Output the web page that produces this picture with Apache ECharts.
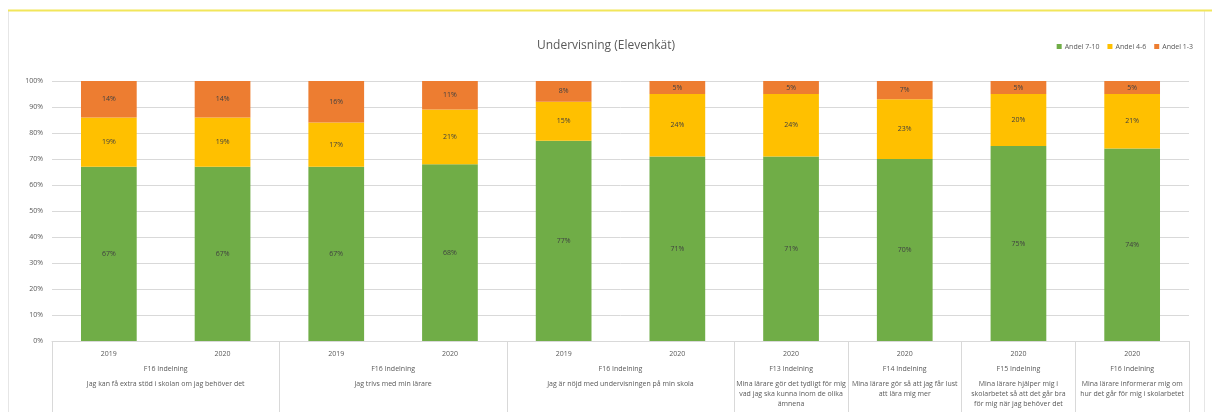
<!DOCTYPE html>
<html>
<head>
<meta charset="utf-8">
<script src="https://cdn.jsdelivr.net/npm/echarts@6/dist/echarts.min.js"></script>
<style>
html,body{margin:0;padding:0;background:#fff;}
#c{width:1212px;height:412px;}
</style>
</head>
<body>
<div id="c"></div>
<script>
// ---- data ----
const years = ['2019','2020','2019','2020','2019','2020','2020','2020','2020','2020'];
const andel7_10 = [67, 67, 67, 68, 77, 71, 71, 70, 75, 74];
const andel4_6  = [19, 19, 17, 21, 15, 24, 24, 23, 20, 21];
const andel1_3  = [14, 14, 16, 11,  8,  5,  5,  7,  5,  5];
const seriesNames = ['Andel 7-10', 'Andel 4-6', 'Andel 1-3'];
const groupSizes = [2, 2, 2, 1, 1, 1, 1];
const groupCodes = ['F16 Indelning', 'F16 Indelning', 'F16 Indelning', 'F13 Indelning', 'F14 Indelning', 'F15 Indelning', 'F16 Indelning'];
const groupQuestions = [
  'Jag kan få extra stöd i skolan om jag behöver det',
  'Jag trivs med min lärare',
  'Jag är nöjd med undervisningen på min skola',
  'Mina lärare gör det tydligt för mig\nvad jag ska kunna inom de olika\nämnena',
  'Mina lärare gör så att jag får lust\natt lära mig mer',
  'Mina lärare hjälper mig i\nskolarbetet så att det går bra\nför mig när jag behöver det',
  'Mina lärare informerar mig om\nhur det går för mig i skolarbetet'
];

// ---- derived group positions (on a 0..N value scale aligned with categories) ----
const bounds = [0];
groupSizes.forEach(s => bounds.push(bounds[bounds.length - 1] + s));
const centers = groupSizes.map((s, i) => bounds[i] + s / 2);
const labelByCenter = {};
centers.forEach((c, i) => {
  labelByCenter[c] = '{c|' + groupCodes[i] + '}\n{s| }\n{q|' + groupQuestions[i] + '}';
});

const colors = ['#70ad47', '#ffc000', '#ed7d31'];
const textGray = '#595959';
const gridGray = '#d9d9d9';

const chart = echarts.init(document.getElementById('c'), null, {renderer: 'canvas'});
const mkSeries = (name, data, color) => ({
  name: name,
  type: 'bar',
  stack: 'total',
  data: data,
  barWidth: '49%',
  itemStyle: {color: color},
  label: {
    show: true,
    position: 'inside',
    formatter: p => p.value + '%',
    fontSize: 7,
    color: '#404040',
    fontFamily: 'Open Sans'
  }
});

chart.setOption({
  animation: false,
  backgroundColor: '#ffffff',
  textStyle: {fontFamily: 'Open Sans'},
  title: {
    text: 'Undervisning (Elevenkät)',
    left: 'center',
    top: 35,
    textStyle: {fontSize: 12, fontWeight: 'normal', color: textGray, fontFamily: 'Open Sans'}
  },
  legend: {
    data: seriesNames,
    right: 14,
    top: 38,
    itemWidth: 5,
    itemHeight: 5,
    itemGap: 8,
    icon: 'rect',
    textStyle: {fontSize: 7, color: textGray, padding: [0, 0, 0, -2]}
  },
  grid: {left: 52, right: 23, top: 81, bottom: 71, containLabel: false},
  xAxis: [
    {
      type: 'category',
      data: years,
      axisLine: {lineStyle: {color: gridGray}},
      axisTick: {show: false},
      axisLabel: {fontSize: 7, color: textGray, margin: 9}
    },
    {
      type: 'value',
      min: 0,
      max: years.length,
      position: 'bottom',
      axisLine: {show: false},
      splitLine: {show: false},
      axisTick: {
        show: true,
        customValues: bounds,
        length: 72,
        lineStyle: {color: gridGray}
      },
      axisLabel: {
        show: true,
        customValues: centers,
        formatter: v => labelByCenter[v] || '',
        color: textGray,
        margin: 23,
        align: 'center',
        rich: {
          c: {fontSize: 7, lineHeight: 10, color: textGray},
          s: {fontSize: 4, lineHeight: 5},
          q: {fontSize: 7, lineHeight: 10, color: textGray}
        }
      }
    }
  ],
  yAxis: {
    type: 'value',
    min: 0,
    max: 100,
    interval: 10,
    axisLine: {show: false},
    axisTick: {show: false},
    splitLine: {lineStyle: {color: gridGray}},
    axisLabel: {formatter: '{value}%', fontSize: 7, color: textGray, margin: 9}
  },
  graphic: [
    {type: 'rect', shape: {x: 8.5, y: 10.5, width: 1196, height: 410}, style: {fill: 'none', stroke: '#e6e6e6', lineWidth: 1}, silent: true},
    {type: 'line', shape: {x1: 8, y1: 10.5, x2: 1212, y2: 10.5}, style: {stroke: '#f2e65a', lineWidth: 2}, silent: true}
  ],
  series: [
    mkSeries(seriesNames[0], andel7_10, colors[0]),
    mkSeries(seriesNames[1], andel4_6, colors[1]),
    mkSeries(seriesNames[2], andel1_3, colors[2])
  ]
});
</script>
</body>
</html>
